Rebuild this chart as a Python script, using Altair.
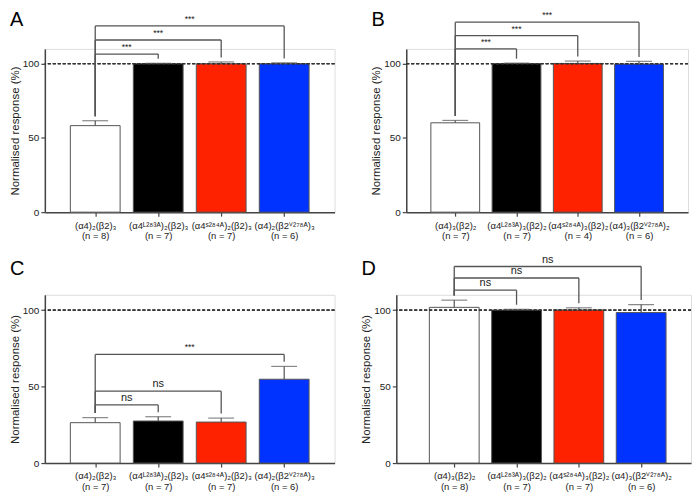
import json
import altair as alt
import pandas as pd

FONT = "Liberation Sans"
COLORS = ["#ffffff", "#000000", "#ff2200", "#0033ff"]
GRAY = "#555555"

# ---- data ----
labels_a = ["(α4)₂(β2)₃", "(α4ᴸ²⁸³ᴬ)₂(β2)₃", "(α4ˢ²⁸⁴ᴬ)₂(β2)₃", "(α4)₂(β2ⱽ²⁷⁸ᴬ)₃"]
labels_b = ["(α4)₃(β2)₂", "(α4ᴸ²⁸³ᴬ)₃(β2)₂", "(α4ˢ²⁸⁴ᴬ)₃(β2)₂", "(α4)₃(β2ⱽ²⁷⁸ᴬ)₂"]

n_a = [8, 7, 7, 6]
vals_a = [58.3, 100.0, 100.0, 100.0]
errs_a = [3.3, 0.3, 1.2, 0.6]
br_idx_a = [1, 2, 3]
br_h_a = [106.5, 116, 125.5]
br_txt_a = ["***", "***", "***"]

n_b = [7, 7, 4, 6]
vals_b = [60.2, 100.1, 100.2, 99.8]
errs_b = [1.6, 0.3, 1.6, 1.8]
br_idx_b = [1, 2, 3]
br_h_b = [110, 119, 128]
br_txt_b = ["***", "***", "***"]

n_c = [7, 7, 7, 6]
vals_c = [26.4, 27.5, 26.8, 54.8]
errs_c = [3.3, 2.8, 2.6, 8.4]
br_idx_c = [1, 2, 3]
br_h_c = [38, 47, 71]
br_txt_c = ["ns", "ns", "***"]

n_d = [8, 7, 7, 6]
vals_d = [101.8, 100.0, 100.1, 98.4]
errs_d = [4.7, 0.5, 1.4, 5.2]
br_idx_d = [1, 2, 3]
br_h_d = [113, 121, 128.5]
br_txt_d = ["ns", "ns", "ns"]


def panel(letter, formulas, ns, vals, errs, br_idx, br_h, br_txt, w, h, xmin, bw, letter_y):
    tops = [v + e for v, e in zip(vals, errs)]
    df = pd.DataFrame({"idx": list(range(4)), "val": vals, "top": tops})
    gap = 3
    br = pd.DataFrame({
        "x0": [0] * len(br_idx),
        "x1": br_idx,
        "h": br_h,
        "txt": br_txt,
        "xm": [j / 2 for j in br_idx],
    })
    legs_rows = []
    for j, hh in zip(br_idx, br_h):
        legs_rows.append({"x": 0, "h": hh, "bot": tops[0] + gap})
        legs_rows.append({"x": j, "h": hh, "bot": tops[j] + gap})
    legs = pd.DataFrame(legs_rows)

    label_expr = "[" + ",".join(
        json.dumps([f, f"(n = {n})"]) for f, n in zip(formulas, ns)
    ) + "][datum.value]"

    xscale = alt.Scale(domain=[xmin, 3.8], nice=False, zero=False, padding=0)
    yscale = alt.Scale(domain=[0, 110], nice=False, padding=0)
    xaxis = alt.Axis(values=[0, 1, 2, 3], labelExpr=label_expr, title=None, grid=False,
                     labelAngle=0, tickSize=4, labelFontSize=9.5, labelLineHeight=10.5,
                     labelPadding=4, labelColor="#222", domainColor="#444",
                     tickColor="#444", domainWidth=1.5, tickWidth=1.2, labelFont=FONT,
                     labelOverlap=False)
    yaxis = alt.Axis(values=[0, 50, 100], title="Normalised response (%)", grid=False,
                     tickSize=4, labelFontSize=10, labelColor="#222", domainColor="#444",
                     tickColor="#444", domainWidth=1.5, tickWidth=1.2, labelFont=FONT,
                     titleFont=FONT, titleFontSize=11.5, titleFontWeight="normal",
                     titleColor="#222", titlePadding=2, labelPadding=2)

    bars = alt.Chart(df).mark_bar(size=bw, stroke=GRAY, strokeWidth=1).encode(
        x=alt.X("idx:Q", scale=xscale, axis=xaxis),
        y=alt.Y("val:Q", scale=yscale, axis=yaxis),
        color=alt.Color("idx:N", scale=alt.Scale(domain=[0, 1, 2, 3], range=COLORS), legend=None),
    )
    ref = alt.Chart(df).mark_rule(strokeDash=[3, 2], color="#333", strokeWidth=1).encode(
        y=alt.datum(100)
    )
    err = alt.Chart(df).mark_rule(color=GRAY, strokeWidth=1.2).encode(
        x="idx:Q", y="val:Q", y2="top:Q"
    )
    cap = alt.Chart(df).mark_tick(orient="horizontal", size=26, thickness=1.2, color=GRAY).encode(
        x="idx:Q", y="top:Q"
    )
    hbr = alt.Chart(br).mark_rule(color=GRAY, strokeWidth=1.3, clip=False).encode(
        x="x0:Q", x2="x1:Q", y="h:Q"
    )
    vlegs = alt.Chart(legs).mark_rule(color=GRAY, strokeWidth=1.3, clip=False).encode(
        x="x:Q", y="h:Q", y2="bot:Q"
    )
    txt = alt.Chart(br).mark_text(baseline="bottom", dy=-2, font=FONT, color="#222", clip=False).encode(
        x="xm:Q", y="h:Q", text="txt:N",
        size=alt.condition("datum.txt == 'ns'", alt.value(11), alt.value(8.5)),
    )
    lab = alt.Chart(pd.DataFrame({"t": [letter]})).mark_text(
        align="left", baseline="alphabetic", fontSize=20, font=FONT, color="black", clip=False
    ).encode(text="t:N", x=alt.value(-35), y=alt.value(letter_y))
    return alt.layer(bars, ref, err, cap, hbr, vlegs, txt, lab).properties(width=w, height=h)


A = panel("A", labels_a, n_a, vals_a, errs_a, br_idx_a, br_h_a, br_txt_a, 291, 164, -0.8, 50, -23)
B = panel("B", labels_b, n_b, vals_b, errs_b, br_idx_b, br_h_b, br_txt_b, 283, 164, -0.8, 49, -23)
C = panel("C", labels_a, n_c, vals_c, errs_c, br_idx_c, br_h_c, br_txt_c, 291, 169, -0.8, 50, -20)
D = panel("D", labels_b, n_d, vals_d, errs_d, br_idx_d, br_h_d, br_txt_d, 296, 169, -0.93, 50, -20)

chart = alt.vconcat(
    alt.hconcat(A, B, spacing=34),
    alt.hconcat(C, D, spacing=24),
    spacing=12,
).configure_view(stroke=None).configure(padding=0)

chart.save("out.html", embed_options={"renderer": "svg", "actions": False})
